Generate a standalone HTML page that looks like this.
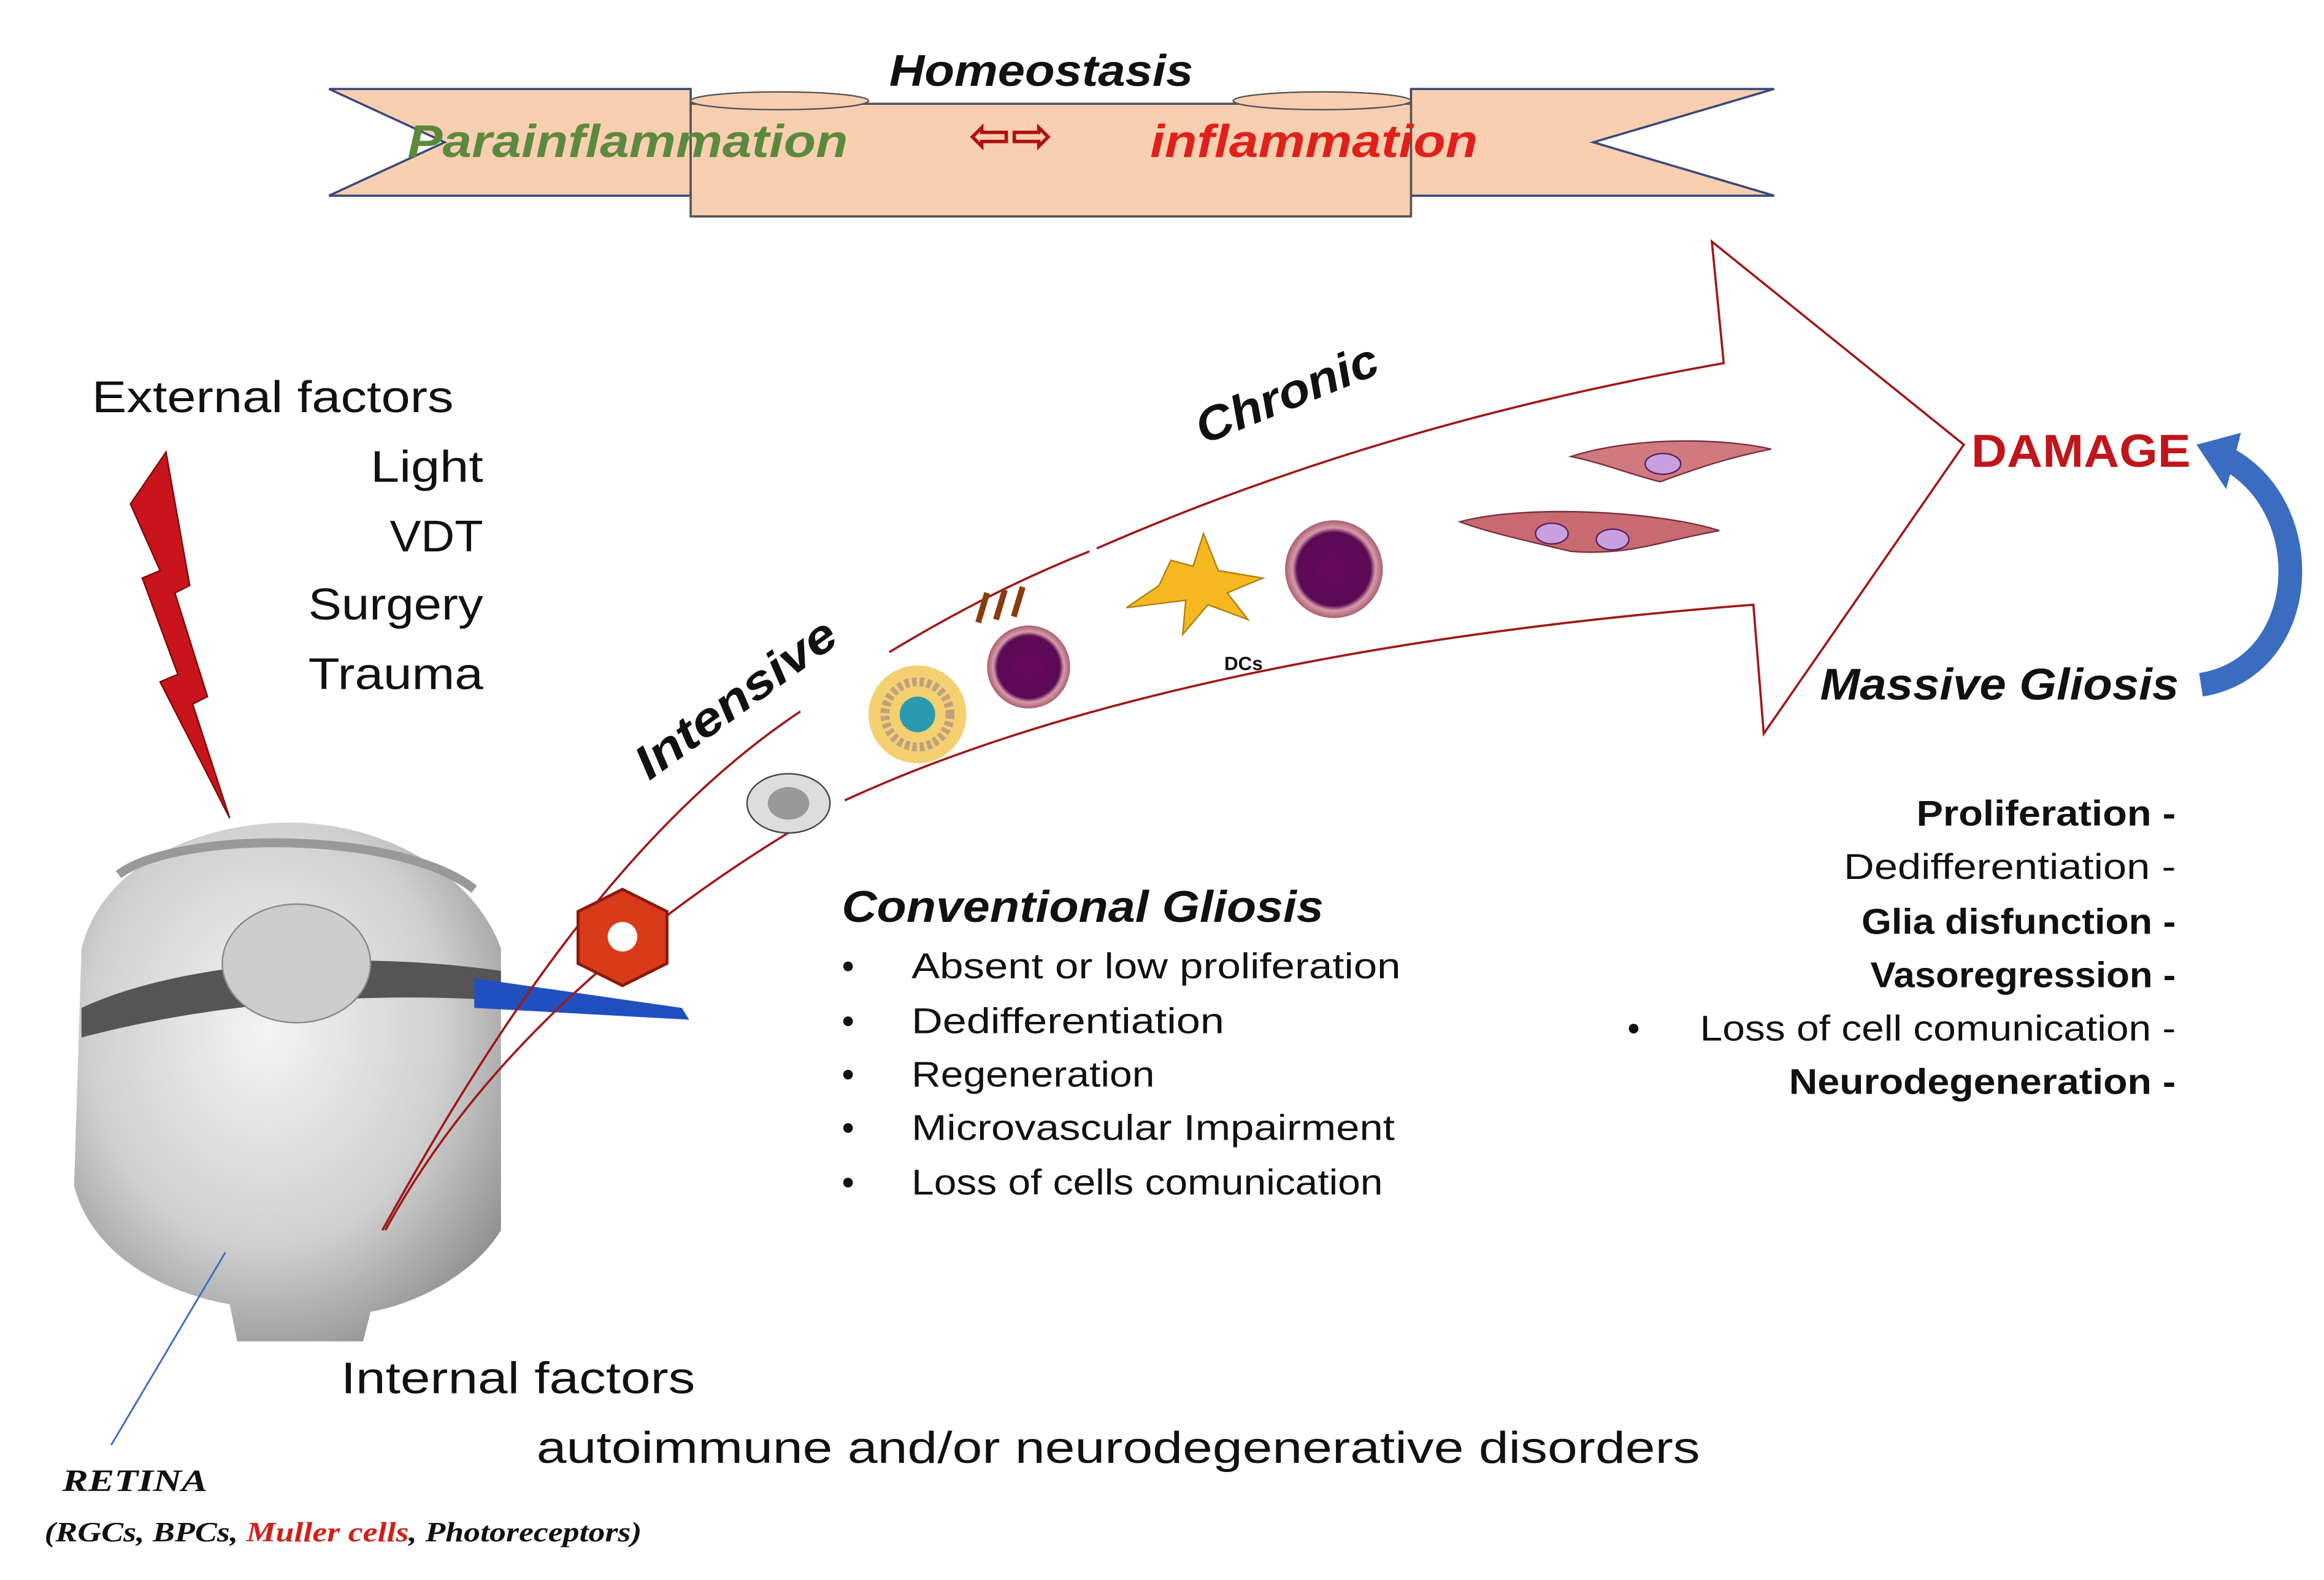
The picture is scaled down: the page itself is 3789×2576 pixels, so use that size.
<!DOCTYPE html>
<html><head><meta charset="utf-8"><style>html,body{margin:0;padding:0;background:#fff}svg{display:block}</style></head><body>
<svg width="3789" height="2576" viewBox="0 0 1568 1066" xmlns="http://www.w3.org/2000/svg" font-family="'Liberation Sans', 'DejaVu Sans', sans-serif">
<defs>
<radialGradient id="eye" cx="0.45" cy="0.4" r="0.7"><stop offset="0" stop-color="#f4f4f4"/><stop offset="0.6" stop-color="#cfcfcf"/><stop offset="1" stop-color="#8a8a8a"/></radialGradient>
<radialGradient id="cell" cx="0.5" cy="0.5" r="0.5"><stop offset="0" stop-color="#6a0a5a"/><stop offset="0.75" stop-color="#5a0a55"/><stop offset="0.85" stop-color="#d89aa8"/><stop offset="1" stop-color="#a86070"/></radialGradient>
</defs>
<!-- banner -->
<polygon points="222,60 466,60 466,132 222,132 300,96" fill="#f9cfb2" stroke="#3a4a7a" stroke-width="1.5"/>
<polygon points="952,60 1197,60 1075,96 1197,132 952,132" fill="#f9cfb2" stroke="#3a4a7a" stroke-width="1.5"/>
<rect x="466" y="70" width="486" height="76" fill="#f9cfb2" stroke="#555" stroke-width="1.5"/>
<ellipse cx="526" cy="68" rx="60" ry="6" fill="#f9cfb2" stroke="#555"/>
<ellipse cx="892" cy="68" rx="60" ry="6" fill="#f9cfb2" stroke="#555"/>
<text x="600" y="58" font-size="30" font-weight="bold" font-style="italic" fill="#111" textLength="205" lengthAdjust="spacingAndGlyphs">Homeostasis</text>
<text x="275" y="106" font-size="31" font-weight="bold" font-style="italic" fill="#5c8a3c" textLength="297" lengthAdjust="spacingAndGlyphs">Parainflammation</text>
<text x="776" y="106" font-size="31" font-weight="bold" font-style="italic" fill="#e0201a" textLength="221" lengthAdjust="spacingAndGlyphs">inflammation</text>
<text x="682" y="103" font-size="34" font-weight="bold" text-anchor="middle" fill="#b01010">⇦⇨</text>
<!-- eye -->
<path d="M55,640 C70,580 140,555 195,555 C260,555 320,590 338,640 L338,830 C320,860 280,880 250,885 L245,905 L160,905 L155,880 C100,870 60,840 50,800 Z" fill="url(#eye)"/>
<path d="M55,680 C120,650 230,640 338,655 L338,675 C230,668 130,680 55,700 Z" fill="#555"/>
<ellipse cx="200" cy="650" rx="50" ry="40" fill="#ccc" stroke="#888"/>
<path d="M80,590 C120,560 270,560 320,600" fill="none" stroke="#999" stroke-width="6"/>
<path d="M320,660 L460,680 L465,688 L320,680 Z" fill="#2050c0"/>
<!-- big arrow -->
<path d="M258,830 C330,700 420,560 540,480 M600,440 C650,410 690,390 735,372 M740,370 C900,300 1050,265 1163,245 L1155,163 L1325,300 L1190,495 L1183,408 C900,430 700,480 570,540 M535,560 C420,630 320,720 260,830" fill="none" stroke="#a01818" stroke-width="1.5"/>
<text x="1330" y="315" font-size="31" font-weight="bold" fill="#c0151a" textLength="148" lengthAdjust="spacingAndGlyphs">DAMAGE</text>
<path d="M1485,462 C1560,450 1565,340 1500,308" fill="none" stroke="#3a6cc0" stroke-width="16"/>
<polygon points="1482,300 1512,292 1502,330" fill="#3a6cc0"/>
<text x="1228" y="472" font-size="30" font-weight="bold" font-style="italic" fill="#111" textLength="242" lengthAdjust="spacingAndGlyphs">Massive Gliosis</text>
<g font-size="24" fill="#111">
<text x="1293" y="557" font-weight="bold" textLength="175" lengthAdjust="spacingAndGlyphs">Proliferation -</text>
<text x="1244" y="593" textLength="224" lengthAdjust="spacingAndGlyphs">Dedifferentiation -</text>
<text x="1256" y="630" font-weight="bold" textLength="212" lengthAdjust="spacingAndGlyphs">Glia disfunction -</text>
<text x="1262" y="666" font-weight="bold" textLength="206" lengthAdjust="spacingAndGlyphs">Vasoregression -</text>
<text x="1147" y="702" textLength="321" lengthAdjust="spacingAndGlyphs">Loss of cell comunication -</text>
<text x="1207" y="738" font-weight="bold" textLength="261" lengthAdjust="spacingAndGlyphs">Neurodegeneration -</text>
<text x="1098" y="702">•</text>
</g>
<text x="568" y="622" font-size="30" font-weight="bold" font-style="italic" fill="#111" textLength="325" lengthAdjust="spacingAndGlyphs">Conventional Gliosis</text>
<g font-size="24" fill="#111">
<text x="568" y="660">•</text><text x="615" y="660" textLength="330" lengthAdjust="spacingAndGlyphs">Absent or low proliferation</text>
<text x="568" y="697">•</text><text x="615" y="697" textLength="211" lengthAdjust="spacingAndGlyphs">Dedifferentiation</text>
<text x="568" y="733">•</text><text x="615" y="733" textLength="164" lengthAdjust="spacingAndGlyphs">Regeneration</text>
<text x="568" y="769">•</text><text x="615" y="769" textLength="326" lengthAdjust="spacingAndGlyphs">Microvascular Impairment</text>
<text x="568" y="806">•</text><text x="615" y="806" textLength="318" lengthAdjust="spacingAndGlyphs">Loss of cells comunication</text>
</g>
<g font-size="30" fill="#111">
<text x="62" y="278" textLength="244" lengthAdjust="spacingAndGlyphs">External factors</text>
<text x="250" y="325" textLength="76" lengthAdjust="spacingAndGlyphs">Light</text>
<text x="263" y="372" textLength="63" lengthAdjust="spacingAndGlyphs">VDT</text>
<text x="208" y="418" textLength="118" lengthAdjust="spacingAndGlyphs">Surgery</text>
<text x="208" y="465" textLength="118" lengthAdjust="spacingAndGlyphs">Trauma</text>
<text x="230" y="940" textLength="239" lengthAdjust="spacingAndGlyphs">Internal factors</text>
<text x="362" y="987" textLength="785" lengthAdjust="spacingAndGlyphs">autoimmune and/or neurodegenerative disorders</text>
</g>
<polygon points="112,305 128,395 118,400 140,470 130,475 155,552 108,460 120,455 96,390 108,385 88,340" fill="#c8141a" stroke="#7a0a0a"/>
<!-- cells -->
<path d="M390,615 L420,600 L450,615 L450,650 L420,665 L390,650 Z" fill="#d83a1a" stroke="#8a1a0a" stroke-width="2"/>
<circle cx="420" cy="632" r="10" fill="#fff"/>
<ellipse cx="532" cy="542" rx="28" ry="20" fill="#ddd" stroke="#444"/>
<ellipse cx="532" cy="542" rx="14" ry="11" fill="#999"/>
<circle cx="619" cy="482" r="33" fill="#f4d070"/>
<circle cx="619" cy="482" r="22" fill="none" stroke="#c0a080" stroke-width="6" stroke-dasharray="3 2"/>
<circle cx="619" cy="482" r="12" fill="#2a9ab0"/>
<circle cx="694" cy="450" r="28" fill="url(#cell)"/>
<path d="M660,420 l6,-20 M672,418 l6,-20 M684,416 l6,-20" stroke="#8a3a10" stroke-width="4"/>
<polygon points="790,378 805,382 812,360 822,385 852,390 828,400 842,418 815,408 798,428 800,405 760,410 782,395" fill="#f5b820" stroke="#b08010"/>
<text x="826" y="452" font-size="13" font-weight="bold" fill="#111">DCs</text>
<circle cx="900" cy="384" r="33" fill="url(#cell)"/>
<path d="M1060,308 C1100,295 1160,295 1195,303 C1160,310 1140,318 1120,325 C1100,320 1080,312 1060,308 Z" fill="#d07a80" stroke="#7a3040"/>
<ellipse cx="1122" cy="313" rx="12" ry="7" fill="#c8a0e0" stroke="#602060"/>
<path d="M985,352 C1030,340 1120,345 1160,358 C1120,365 1100,375 1060,372 C1030,365 1000,358 985,352 Z" fill="#c86a70" stroke="#7a3040"/>
<ellipse cx="1047" cy="360" rx="11" ry="7" fill="#c8a0e0" stroke="#602060"/>
<ellipse cx="1088" cy="364" rx="11" ry="7" fill="#c8a0e0" stroke="#602060"/>
<!-- rotated labels -->
<text transform="translate(438,527) rotate(-36)" font-size="32" font-weight="bold" font-style="italic" fill="#111" textLength="160" lengthAdjust="spacingAndGlyphs">Intensive</text>
<text transform="translate(812,300) rotate(-22)" font-size="32" font-weight="bold" font-style="italic" fill="#111" textLength="130" lengthAdjust="spacingAndGlyphs">Chronic</text>
<!-- retina -->
<line x1="75" y1="975" x2="152" y2="845" stroke="#3a6cc0" stroke-width="1.2"/>
<g font-family="'Liberation Serif', serif" font-style="italic" font-weight="bold">
<text x="42" y="1006" font-size="21" fill="#111" textLength="98" lengthAdjust="spacingAndGlyphs">RETINA</text>
<text x="30" y="1040" font-size="19" fill="#111" textLength="403" lengthAdjust="spacingAndGlyphs">(RGCs, BPCs, <tspan fill="#d0201a">Muller cells</tspan>, Photoreceptors)</text>
</g>
</svg>
</body></html>
